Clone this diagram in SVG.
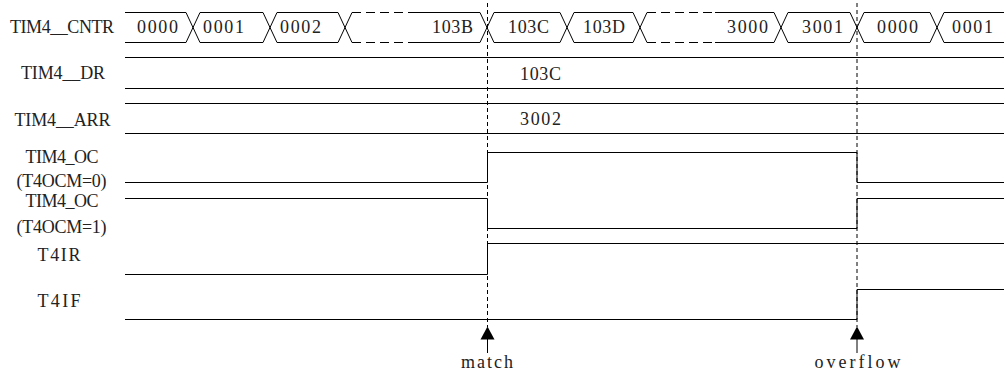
<svg xmlns="http://www.w3.org/2000/svg" width="1004" height="374" viewBox="0 0 1004 374">
<style>
  .w{fill:none;stroke:#000;stroke-width:1}
  .d{fill:none;stroke:#000;stroke-width:1;stroke-dasharray:9 5}
  .v{fill:none;stroke:#000;stroke-width:1;stroke-dasharray:4 3}
  .ah{fill:#000;stroke:none}
  text{font-family:"Liberation Serif","Times New Roman",serif;font-size:18px;fill:#222;lengthAdjust:spacing}
  .l{text-anchor:middle}
</style>
<rect width="1004" height="374" fill="#fff"/>

<g id="cntr">
  <text class="l" x="62" y="33" textLength="104" lengthAdjust="spacing">TIM4__CNTR</text>
  <path class="w" d="M125,12.5 H186 L200,42.5 H263 L277,12.5 H338 L352,42.5 M125,42.5 H186 L200,12.5 H263 L277,42.5 H338 L352,12.5"/>
  <path class="d" d="M352,12.5 H413 M352,42.5 H413"/>
  <path class="w" d="M413,12.5 H480 L494,42.5 H560 L574,12.5 H633 L647,42.5 M413,42.5 H480 L494,12.5 H560 L574,42.5 H633 L647,12.5"/>
  <path class="d" d="M647,12.5 H715 M647,42.5 H715"/>
  <path class="w" d="M715,12.5 H774 L788,42.5 H850 L864,12.5 H930 L944,42.5 H998 L1012,42.5 M715,42.5 H774 L788,12.5 H850 L864,42.5 H930 L944,12.5 H998 L1012,12.5"/>
  <text x="137" y="33" textLength="41" lengthAdjust="spacing">0000</text>
  <text x="203" y="33" textLength="41" lengthAdjust="spacing">0001</text>
  <text x="280" y="33" textLength="41" lengthAdjust="spacing">0002</text>
  <text x="432" y="33" textLength="41" lengthAdjust="spacing">103B</text>
  <text x="508" y="33" textLength="41" lengthAdjust="spacing">103C</text>
  <text x="583" y="33" textLength="42" lengthAdjust="spacing">103D</text>
  <text x="727" y="33" textLength="41" lengthAdjust="spacing">3000</text>
  <text x="802" y="33" textLength="41" lengthAdjust="spacing">3001</text>
  <text x="877" y="33" textLength="41" lengthAdjust="spacing">0000</text>
  <text x="952" y="33" textLength="41" lengthAdjust="spacing">0001</text>
</g>

<g id="dr">
  <text class="l" x="63" y="79" textLength="84" lengthAdjust="spacing">TIM4__DR</text>
  <path class="w" d="M125,57.5 H1004 M125,88.5 H1004"/>
  <text x="520" y="80" textLength="41" lengthAdjust="spacing">103C</text>
</g>

<g id="arr">
  <text class="l" x="62.5" y="126" textLength="96" lengthAdjust="spacing">TIM4__ARR</text>
  <path class="w" d="M125,103.5 H1004 M125,133.5 H1004"/>
  <text x="520" y="125" textLength="41" lengthAdjust="spacing">3002</text>
</g>

<g id="oc0">
  <text class="l" x="62" y="163" textLength="73" lengthAdjust="spacing">TIM4_OC</text>
  <text class="l" x="61.5" y="187" textLength="90" lengthAdjust="spacing">(T4OCM=0)</text>
  <path class="w" d="M125,182.5 H487.5 V152.5 H857 V182.5 H1004"/>
</g>

<g id="oc1">
  <text class="l" x="62" y="207" textLength="73" lengthAdjust="spacing">TIM4_OC</text>
  <text class="l" x="61.5" y="233" textLength="90" lengthAdjust="spacing">(T4OCM=1)</text>
  <path class="w" d="M125,198.5 H487.5 V228.5 H857 V198.5 H1004"/>
</g>

<g id="t4ir">
  <text class="l" x="59" y="261" textLength="43" lengthAdjust="spacing">T4IR</text>
  <path class="w" d="M125,274.5 H487.5 V243.5 H1004"/>
</g>

<g id="t4if">
  <text class="l" x="59" y="307" textLength="43" lengthAdjust="spacing">T4IF</text>
  <path class="w" d="M125,319.5 H857 V289.5 H1004"/>
</g>

<g id="connectors">
  <path class="v" d="M487.5,3 V327"/>
  <path class="v" d="M857,3 V327"/>
  <path class="w" d="M487.5,353 V338"/>
  <path class="ah" d="M487.5,326.5 L494.5,339.5 H480.5 Z"/>
  <path class="w" d="M857,353 V338"/>
  <path class="ah" d="M857,326.5 L864,339.5 H850 Z"/>
  <text class="l" x="487" y="368" textLength="52" lengthAdjust="spacing">match</text>
  <text class="l" x="857.5" y="368" textLength="86" lengthAdjust="spacing">overflow</text>
</g>
</svg>
